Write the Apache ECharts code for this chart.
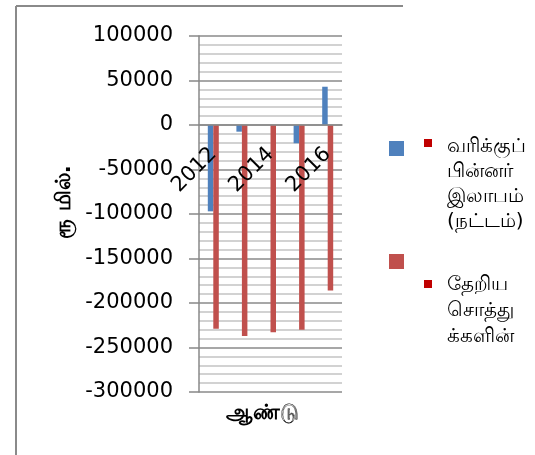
<!DOCTYPE html>
<html>
<head>
<meta charset="utf-8">
<script src="https://cdn.jsdelivr.net/npm/echarts@6/dist/echarts.min.js"></script>
<style>
  html, body { margin: 0; padding: 0; background: #fff; }
  #main { width: 535px; height: 455px; }
</style>
</head>
<body>
<div id="main"></div>
<script>
var chartDom = document.getElementById('main');
var myChart = echarts.init(chartDom, null, { renderer: 'canvas' });

// data
const years = ['2012', '2013', '2014', '2015', '2016'];
const profitName = 'வரிக்குப் பின்னர் இலாபம் (நட்டம்)';
const assetsName = 'தேறிய சொத்துக்களின்';
const profitValues = [-97000, -7500, 0, -20500, 43000];
const assetsValues = [-229000, -237000, -233000, -230000, -186000];

const yTitle = 'ரூ மில்.';
const xTitle = 'ஆண்டு';
const profitLegendLines = ['வரிக்குப்', 'பின்னர்', 'இலாபம்', '(நட்டம்)'];
const assetsLegendLines = ['தேறிய', 'சொத்து', 'க்களின்'];

const yMin = -300000;
const yMax = 100000;

const blue = '#4F81BD';
const red = '#C0504D';
const textFont = '"DejaVu Sans", "Noto Sans", sans-serif';

// plot box
const gridTop = 36;
const gridBottom = 63;
const plotHeight = 455 - gridTop - gridBottom;
// category axis sits on the zero line
const zeroOffset = -plotHeight * (0 - yMin) / (yMax - yMin);

var option;
option = {
    animation: false,
    backgroundColor: '#fff',
    grid: {
        left: 199,
        right: 193,
        top: gridTop,
        bottom: gridBottom,
        containLabel: false
    },
    legend: {
        orient: 'vertical',
        left: 384,
        top: 136,
        itemWidth: 15,
        itemHeight: 15,
        itemGap: 98,
        icon: 'rect',
        formatter: () => '',
        selectedMode: false,
        data: [profitName, assetsName]
    },
    xAxis: {
        type: 'category',
        data: years,
        position: 'bottom',
        offset: zeroOffset,
        z: 10,
        axisLine: { show: true, onZero: false, lineStyle: { color: '#8a8a8a', width: 1.5 } },
        axisTick: { show: false },
        splitLine: { show: false },
        axisLabel: {
            interval: 1,
            rotate: 45,
            margin: 26,
            color: '#000',
            fontSize: 21,
            fontFamily: textFont
        }
    },
    yAxis: {
        type: 'value',
        min: yMin,
        max: yMax,
        interval: 50000,
        name: yTitle,
        nameLocation: 'middle',
        nameGap: 124,
        nameRotate: 90,
        nameTextStyle: {
            color: '#000',
            fontSize: 21,
            fontWeight: 'bold',
            fontFamily: textFont,
            padding: [0, 0, 0, 24]
        },
        axisLine: { show: true, lineStyle: { color: '#888', width: 1.5 } },
        axisTick: { show: true, length: 10, lineStyle: { color: '#888', width: 1.5 } },
        axisLabel: {
            margin: 26,
            color: '#000',
            fontSize: 21,
            fontFamily: textFont,
            formatter: (v) => String(v)
        },
        splitLine: { show: true, lineStyle: { color: '#8a8a8a', width: 1.5 } },
        minorTick: { show: false, splitNumber: 5 },
        minorSplitLine: { show: true, lineStyle: { color: '#c4c4c4', width: 1.5 } }
    },
    series: [
        {
            name: profitName,
            type: 'bar',
            data: profitValues,
            barWidth: 5.5,
            barGap: '0%',
            itemStyle: { color: blue }
        },
        {
            name: assetsName,
            type: 'bar',
            data: assetsValues,
            barWidth: 5.5,
            itemStyle: { color: red }
        }
    ],
    graphic: [
        // outer frame (partly cropped)
        { type: 'line', shape: { x1: 16, y1: 6, x2: 403, y2: 6 }, style: { stroke: '#8a8a8a', lineWidth: 2 } },
        { type: 'line', shape: { x1: 16, y1: 6, x2: 16, y2: 455 }, style: { stroke: '#8a8a8a', lineWidth: 2 } },
        // x axis title
        {
            type: 'text', left: 226, top: 403,
            style: { text: xTitle, fill: '#000', font: 'bold 21px ' + textFont }
        },
        // legend bullets and labels
        { type: 'rect', shape: { x: 424, y: 139, width: 8, height: 8 }, style: { fill: '#C00000' } },
        {
            type: 'text', left: 447, top: 134,
            style: { text: profitLegendLines.join('\n'), fill: '#000', font: '20px ' + textFont, lineHeight: 25 }
        },
        { type: 'rect', shape: { x: 424, y: 280, width: 8, height: 8 }, style: { fill: '#C00000' } },
        {
            type: 'text', left: 447, top: 272,
            style: { text: assetsLegendLines.join('\n'), fill: '#000', font: '20px ' + textFont, lineHeight: 26 }
        }
    ]
};
option && myChart.setOption(option);
</script>
</body>
</html>
